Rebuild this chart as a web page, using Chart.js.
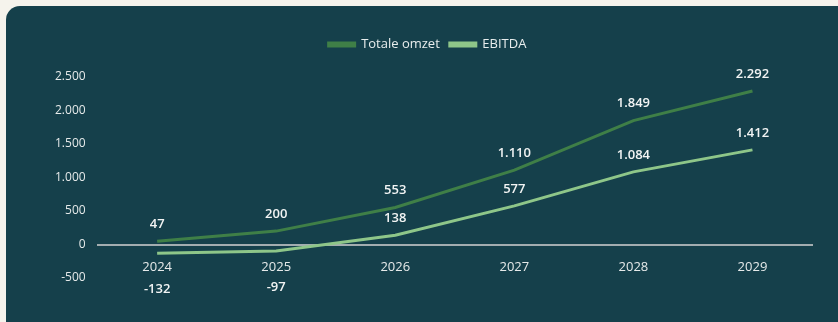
<!DOCTYPE html>
<html>
<head>
<meta charset="utf-8">
<script src="https://cdn.jsdelivr.net/npm/chart.js@4/dist/chart.umd.min.js"></script>
<style>
  html, body { margin: 0; padding: 0; background: #f5f3ec; overflow: hidden; }
  #wrap { position: relative; width: 838px; height: 322px; }
  #panel {
    position: absolute; left: 6px; top: 6px; width: 860px; height: 340px;
    background: #15404b; border-radius: 14px;
  }
  #chart { position: absolute; left: 0; top: 0; }
</style>
</head>
<body>
<div id="wrap">
  <div id="panel"></div>
  <canvas id="chart" width="838" height="322"></canvas>
</div>
<script>
const years = ['2024', '2025', '2026', '2027', '2028', '2029'];
const omzet = [47, 200, 553, 1110, 1849, 2292];
const ebitda = [-132, -97, 138, 577, 1084, 1412];
const yTicks = [-500, 0, 500, 1000, 1500, 2000, 2500];

const darkGreen = '#3f7f47';
const lightGreen = '#8ec689';
const fontFamily = "'Open Sans', sans-serif";

function formatNumber(v) {
  const s = Math.abs(v).toString().replace(/\B(?=(\d{3})+(?!\d))/g, '.');
  return (v < 0 ? '-' : '') + s;
}

// extra room between legend and plot
const legendGap = {
  id: 'legendGap',
  beforeInit(chart) {
    const fit = chart.legend.fit;
    chart.legend.fit = function () {
      fit.call(this);
      this.height += 16;
    };
  }
};

// value labels above each point, negatives go below the year labels
const valueLabels = {
  id: 'valueLabels',
  afterDatasetsDraw(chart) {
    const ctx = chart.ctx;
    ctx.save();
    ctx.font = '600 13px ' + fontFamily;
    ctx.fillStyle = '#f2f4f4';
    ctx.textAlign = 'center';
    ctx.textBaseline = 'middle';
    chart.data.datasets.forEach((ds, i) => {
      const meta = chart.getDatasetMeta(i);
      meta.data.forEach((pt, j) => {
        const v = ds.data[j];
        const y = v < 0 ? pt.y + 36 : pt.y - 17;
        ctx.fillText(formatNumber(v), pt.x, y);
      });
    });
    ctx.restore();
  }
};

new Chart(document.getElementById('chart'), {
  type: 'line',
  data: {
    labels: years,
    datasets: [
      {
        label: 'Totale omzet',
        data: omzet,
        borderColor: darkGreen,
        backgroundColor: darkGreen,
        borderWidth: 3,
        pointRadius: 0,
        tension: 0
      },
      {
        label: 'EBITDA',
        data: ebitda,
        borderColor: lightGreen,
        backgroundColor: lightGreen,
        borderWidth: 3,
        pointRadius: 0,
        tension: 0
      }
    ]
  },
  options: {
    responsive: false,
    animation: false,
    layout: { padding: { left: 43, right: 26, top: 28, bottom: 44 } },
    plugins: {
      legend: {
        position: 'top',
        labels: {
          color: '#e8eded',
          font: { family: fontFamily, size: 13 },
          boxWidth: 26,
          boxHeight: 3,
          padding: 10
        }
      },
      tooltip: { enabled: false }
    },
    scales: {
      x: {
        position: { y: 0 },
        offset: true,
        grid: { display: false, drawTicks: false },
        border: { color: '#a3adb0', width: 2 },
        ticks: {
          color: '#e6eaea',
          font: { family: fontFamily, size: 13 },
          padding: 15
        }
      },
      y: {
        min: -500,
        max: 2500,
        afterBuildTicks(axis) {
          axis.ticks = yTicks.map(v => ({ value: v }));
        },
        grid: { display: false, drawTicks: false },
        border: { display: false },
        ticks: {
          color: '#e6eaea',
          font: { family: fontFamily, size: 12 },
          padding: 12,
          callback: v => formatNumber(v)
        }
      }
    }
  },
  plugins: [legendGap, valueLabels]
});
</script>
</body>
</html>
